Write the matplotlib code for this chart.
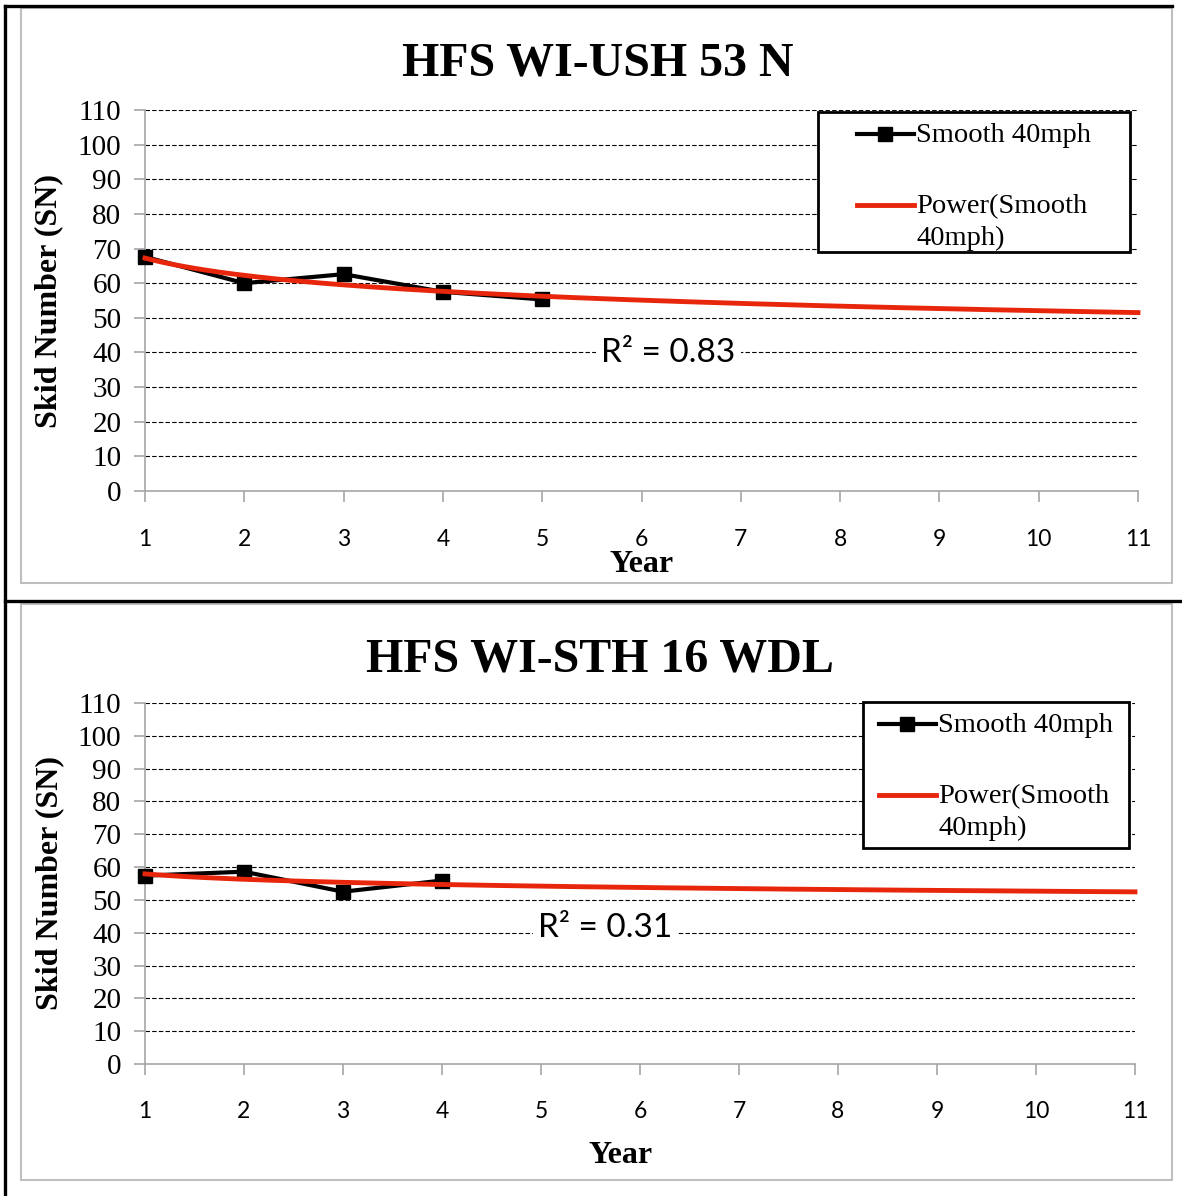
import numpy as np
from matplotlib import pyplot as plt
from matplotlib.patches import Rectangle
from matplotlib.lines import Line2D

# chart 1 - HFS WI-USH 53 N
years_1 = [1, 2, 3, 4, 5]
sn_1 = [67.6, 60.0, 62.6, 57.5, 55.3]
r2_1 = 0.83
title_1 = 'HFS WI-USH 53 N'

# chart 2 - HFS WI-STH 16 WDL
years_2 = [1, 2, 3, 4]
sn_2 = [57.4, 58.6, 52.5, 55.9]
r2_2 = 0.31
title_2 = 'HFS WI-STH 16 WDL'

x_ticks = list(range(1, 12))
y_ticks = list(range(0, 111, 10))

SERIF = 'Liberation Serif'
SANS = 'Lato'
RED = '#e8260b'
GRAY = '#a6a6a6'

W, H = 1182, 1196
fig = plt.figure(figsize=(W / 100, H / 100), dpi=100)


def px_rect(l, t, r, b):
    return [l / W, 1 - b / H, (r - l) / W, (b - t) / H]


def chart(rect, years, sn, r2, title, title_xy, r2_pos, leg_px, xlabel_pos):
    ax = fig.add_axes(rect)
    x = np.array(years, dtype=float)
    y = np.array(sn, dtype=float)
    # power trendline y = a*x^b, fitted in log space
    b, lna = np.polyfit(np.log(x), np.log(y), 1)
    xf = np.linspace(1, 11, 200)
    yf = np.exp(lna) * xf ** b

    ax.plot(x, y, color='black', lw=3, marker='s', ms=10,
            clip_on=False, zorder=3, label='Smooth 40mph')
    ax.plot(xf, yf, color=RED, lw=3.5, zorder=4, clip_on=False,
            label='Power(Smooth\n40mph)')

    ax.set_xlim(1, 11)
    ax.set_ylim(0, 110)
    ax.set_xticks(x_ticks)
    ax.set_yticks(y_ticks)
    for yy in y_ticks[1:]:
        ax.axhline(yy, color='black', lw=0.8, ls=(0, (4, 2)), zorder=1)

    for s in ['top', 'right']:
        ax.spines[s].set_visible(False)
    for s in ['left', 'bottom']:
        ax.spines[s].set_color(GRAY)
        ax.spines[s].set_linewidth(1.2)
    ax.tick_params(axis='y', length=8, width=1.2, color=GRAY, pad=9,
                   labelsize=21)
    ax.tick_params(axis='x', length=8, width=1.2, color=GRAY, pad=19,
                   labelsize=16.5)
    for lab in ax.get_yticklabels():
        lab.set_fontfamily(SERIF)
    for lab in ax.get_xticklabels():
        lab.set_fontfamily(SANS)

    ax.set_ylabel('Skid Number (SN)', fontfamily=SERIF, fontweight='bold',
                  fontsize=23)
    ax.yaxis.set_label_coords(-0.082, 0.5)
    ax.set_xlabel('Year', fontfamily=SERIF, fontweight='bold', fontsize=23)
    ax.xaxis.set_label_coords(*xlabel_pos)

    ax.text(r2_pos[0], r2_pos[1], 'R² = %.2f' % r2, fontfamily=SANS,
            fontsize=24, ha='center', va='center', zorder=5,
            bbox=dict(facecolor='white', edgecolor='none', pad=4))

    fig.text(title_xy[0] / W, 1 - title_xy[1] / H, title, fontfamily=SERIF,
             fontweight='bold', fontsize=34.5, ha='center', va='center')

    # legend: content centred in a fixed frame, as in the original
    l, t, r, bt = leg_px
    frame = Rectangle((l / W, 1 - bt / H), (r - l) / W, (bt - t) / H,
                      transform=fig.transFigure, facecolor='white',
                      edgecolor='black', lw=2, zorder=6, clip_on=False)
    ax.add_artist(frame)
    leg = ax.legend(loc='upper center',
                    bbox_to_anchor=((l + r) / 2 / W, 1 - (t + 11) / H),
                    bbox_transform=fig.transFigure, borderaxespad=0,
                    borderpad=0, frameon=False,
                    prop={'family': SERIF, 'size': 20.5},
                    handlelength=2.0, handleheight=1.0, handletextpad=0.1,
                    labelspacing=1.6)
    leg.set_zorder(7)
    for txt in leg.get_texts():
        txt.set_linespacing(1.35)
    for col in leg._legend_handle_box.get_children():
        for item in col.get_children():
            item.align = 'top'
    return ax


chart(px_rect(145, 110, 1138, 491), years_1, sn_1, r2_1, title_1,
      (598, 64), (6.27, 39.8), (818, 112, 1130, 252), (0.5, -0.155))
chart(px_rect(145, 703, 1135, 1064), years_2, sn_2, r2_2, title_2,
      (600, 659), (5.65, 41.4), (863, 702, 1129, 848), (0.48, -0.213))

# gray chart-area frames and black outer lines
fig.patches.append(Rectangle((21 / W, 1 - 583 / H), 1151 / W, 575 / H,
                             transform=fig.transFigure, fill=False,
                             edgecolor='#bfbfbf', lw=1.5))
fig.patches.append(Rectangle((21 / W, 1 - 1180 / H), 1151 / W, 576 / H,
                             transform=fig.transFigure, fill=False,
                             edgecolor='#bfbfbf', lw=1.5))
fig.lines.append(Line2D([5 / W, 1172 / W], [1 - 6 / H, 1 - 6 / H],
                        transform=fig.transFigure, color='black', lw=2.4))
fig.lines.append(Line2D([5 / W, 5 / W], [1 - 6 / H, 0],
                        transform=fig.transFigure, color='black', lw=2.4))
fig.lines.append(Line2D([5 / W, 1], [1 - 601 / H, 1 - 601 / H],
                        transform=fig.transFigure, color='black', lw=2.4))

fig.savefig('out.png', dpi=100)
